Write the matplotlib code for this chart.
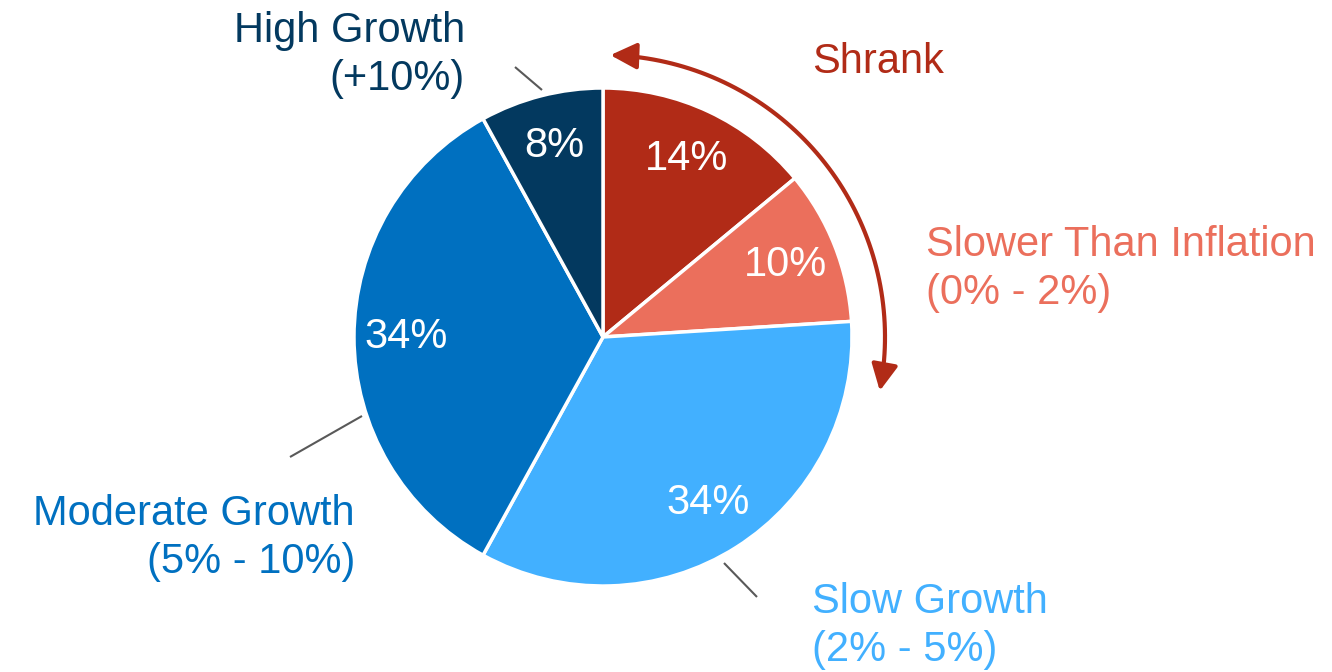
import numpy as np
import matplotlib.pyplot as plt
from matplotlib.patches import FancyArrowPatch
from matplotlib.path import Path

plt.rcParams['font.family'] = ['Liberation Sans', 'DejaVu Sans']

# growth buckets, clockwise from 12 o'clock
shares = [14, 10, 34, 34, 8]
colors = ['#B12B17', '#EB6F5C', '#42B0FF', '#0070C0', '#03395F']
names = ['Shrank', 'Slower Than Inflation\n(0% - 2%)', 'Slow Growth\n(2% - 5%)',
         'Moderate Growth\n(5% - 10%)', 'High Growth\n(+10%)']

W, H = 1332, 672
cx, cy, R = 603, 335, 249

fig = plt.figure(figsize=(W / 100, H / 100), dpi=100)
ax = fig.add_axes([0, 0, 1, 1])

wedges, _, autotexts = ax.pie(
    shares, colors=colors, startangle=90, counterclock=False,
    center=(cx, cy), radius=R,
    autopct=lambda p: f'{p:.0f}%', pctdistance=0.79,
    wedgeprops=dict(edgecolor='white', linewidth=2.5),
    textprops=dict(color='white', fontsize=30))

ax.set_xlim(0, W)
ax.set_ylim(0, H)
ax.set_aspect('equal')
ax.axis('off')

# outside labels (x, y in pixels from the top-left, alignment)
label_pos = [(812, 62, 'left'), (926, 269, 'left'), (812, 626, 'left'),
             (355, 538, 'right'), (465, 55, 'right')]
for name, col, (x, y, ha) in zip(names, colors, label_pos):
    ax.text(x, H - y, name, color=col, fontsize=30, ha=ha, va='center',
            multialignment=ha, linespacing=1.25)

# leader lines
leaders = [((515, 67), (542, 90)),
           ((290, 457), (362, 416)),
           ((724, 563), (757, 597))]
for (x0, y0), (x1, y1) in leaders:
    ax.plot([x0, x1], [H - y0, H - y1], color='#595959', lw=1.5,
            solid_capstyle='butt')

# curved arrow spanning the shrinking slices
theta = np.radians(np.linspace(88.5, -11, 80))
ra = 282
arc = np.column_stack([cx + ra * np.cos(theta), cy + ra * np.sin(theta)])
arrow = FancyArrowPatch(path=Path(arc), arrowstyle='<|-|>,head_length=0.8,head_width=0.4',
                        mutation_scale=20, color='#B12B17', lw=3)
ax.add_patch(arrow)

fig.savefig('out.png', dpi=100)
